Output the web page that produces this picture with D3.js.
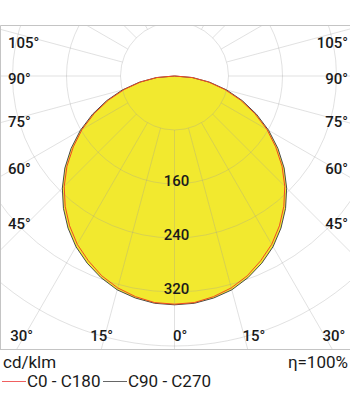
<!doctype html>
<html lang="en">

<head>
    <meta charset="UTF-8" />
    <title>Polar LDC</title>
    <script src="https://d3js.org/d3.v7.min.js"></script>
    <style>
        body,
        html {
            margin: 0;
            padding: 0;
            background: #ffffff;
        }

        svg {
            display: block;
            font-family: Roboto, "Noto Sans", sans-serif;
        }

        .grid {
            fill: none;
            stroke: #9a9a9a;
            stroke-opacity: 0.3;
            stroke-width: 1px;
        }

        .lbl {
            fill: #1a1a1a;
            font-size: 15px;
            font-weight: 500;
        }

        .legend {
            fill: #1a1a1a;
            font-size: 17px;
        }
    </style>
</head>

<body>
    <svg id="chart"></svg>
    <script>
        // gamma angles (deg from nadir) and intensities in cd/klm
        const angles = [0, 5, 10, 15, 20, 25, 30, 35, 40, 45, 50, 55, 60, 65, 70, 75, 80, 85, 90,
            95, 100, 105, 110, 115, 120, 125, 130, 135, 140, 145, 150, 155, 160, 165, 170, 175, 180];
        const c0c180 = [338, 337, 332, 325, 315, 302, 288, 271, 252, 231, 208, 183, 158, 131, 104, 77, 51, 26, 0,
            0, 0, 0, 0, 0, 0, 0, 0, 0, 0, 0, 0, 0, 0, 0, 0, 0, 0];
        const c90c270 = [339, 338, 334, 328, 318, 306, 292, 275, 256, 235, 212, 187, 161, 134, 107, 80, 53, 27, 0,
            0, 0, 0, 0, 0, 0, 0, 0, 0, 0, 0, 0, 0, 0, 0, 0, 0, 0];

        const rings = [80, 160, 240, 320, 400];
        const ringLabels = [160, 240, 320];
        const sideTicks = [105, 90, 75, 60, 45];
        const bottomTicks = [-30, -15, 0, 15, 30];
        const spokes = d3.range(0, 360, 15);

        const width = 350;
        const height = 395;
        const cx = 174.5;
        const cy = 76;
        const box = { x: 1, y: 26, x2: 350, y2: 349 };

        const svg = d3.select("#chart")
            .attr("width", width)
            .attr("height", height)
            .attr("viewBox", `0 0 ${width} ${height}`);

        const r = d3.scaleLinear().domain([0, 400]).range([0, 270]);
        const rad = d => d * Math.PI / 180;

        svg.append("clipPath").attr("id", "plotclip")
            .append("rect")
            .attr("x", box.x).attr("y", box.y)
            .attr("width", box.x2 - box.x).attr("height", box.y2 - box.y);

        const plot = svg.append("g").attr("clip-path", "url(#plotclip)");
        const g = plot.append("g").attr("transform", `translate(${cx},${cy})`);

        // closed curve: right half is one C-plane, left half the opposite one
        function curvePoints(vals) {
            const pts = angles.map((a, i) => ({ t: rad(a), v: vals[i] }));
            const left = angles.slice(1, -1).reverse().map(a => ({
                t: -rad(a),
                v: vals[angles.indexOf(a)]
            }));
            return pts.concat(left);
        }

        const line = d3.lineRadial()
            .angle(d => Math.PI - d.t)
            .radius(d => r(d.v))
            .curve(d3.curveLinearClosed);

        g.append("path")
            .attr("d", line(curvePoints(c90c270)))
            .attr("fill", "#f2e92f")
            .attr("stroke", "none");

        // grid
        g.selectAll(".ring").data(rings).join("circle")
            .attr("class", "grid")
            .attr("r", d => r(d));

        g.selectAll(".spoke").data(spokes).join("line")
            .attr("class", "grid")
            .attr("x1", d => r(rings[0]) * Math.sin(rad(d)))
            .attr("y1", d => r(rings[0]) * Math.cos(rad(d)))
            .attr("x2", d => 500 * Math.sin(rad(d)))
            .attr("y2", d => 500 * Math.cos(rad(d)));

        g.append("path")
            .attr("d", line(curvePoints(c90c270)))
            .attr("fill", "none")
            .attr("stroke", "#4a4a4a")
            .attr("stroke-width", 1);

        g.append("path")
            .attr("d", line(curvePoints(c0c180)))
            .attr("fill", "none")
            .attr("stroke", "#f04a24")
            .attr("stroke-width", 1);

        // frame
        svg.append("path")
            .attr("d", `M0.5,${box.y2 + 0.5}V${box.y - 0.5}H${width}M0,${box.y2 + 0.5}H${width}`)
            .attr("fill", "none")
            .attr("stroke", "#c4c4c4")
            .attr("stroke-width", 1);

        // intensity labels along nadir
        g.selectAll(".rl").data(ringLabels).join("text")
            .attr("class", "lbl")
            .attr("x", 2)
            .attr("y", d => r(d) + 2)
            .attr("text-anchor", "middle")
            .attr("font-weight", 600)
            .text(d => d);

        // side angle labels
        sideTicks.forEach(a => {
            const d = 90 - a;
            const yc = Math.max(42, cy + 2 + 1.04 * (1.5 * d + 72 / Math.tan(rad(a))));
            const y = yc + 5.5;
            svg.append("text").attr("class", "lbl")
                .attr("x", 8).attr("y", y)
                .text(a + "°");
            svg.append("text").attr("class", "lbl")
                .attr("x", 348).attr("y", y)
                .attr("text-anchor", "end")
                .text(a + "°");
        });

        // bottom angle labels
        bottomTicks.forEach(a => {
            const x = cx + (335 - cy) * Math.tan(rad(a));
            const t = svg.append("text").attr("class", "lbl")
                .attr("y", 340.5)
                .text(Math.abs(a) + "°");
            if (a < 0) {
                t.attr("x", x + 8).attr("text-anchor", "end");
            } else {
                t.attr("x", x - 1.5).attr("text-anchor", "start");
            }
            const bb = t.node().getBBox();
            if (bb.x + bb.width > 348) t.attr("x", 348).attr("text-anchor", "end");
        });

        // legend
        svg.append("text").attr("class", "legend")
            .attr("x", 3).attr("y", 368)
            .text("cd/klm");
        svg.append("text").attr("class", "legend")
            .attr("x", 348).attr("y", 368)
            .attr("text-anchor", "end")
            .text("η=100%");

        const items = [
            { name: "C0 - C180", color: "#f06060", x: 2 },
            { name: "C90 - C270", color: "#666666", x: 103 }
        ];
        items.forEach(it => {
            svg.append("line")
                .attr("x1", it.x).attr("x2", it.x + 24)
                .attr("y1", 381.5).attr("y2", 381.5)
                .attr("stroke", it.color).attr("stroke-width", 1);
            svg.append("text").attr("class", "legend")
                .attr("x", it.x + 25).attr("y", 387)
                .text(it.name);
        });
    </script>
</body>

</html>
